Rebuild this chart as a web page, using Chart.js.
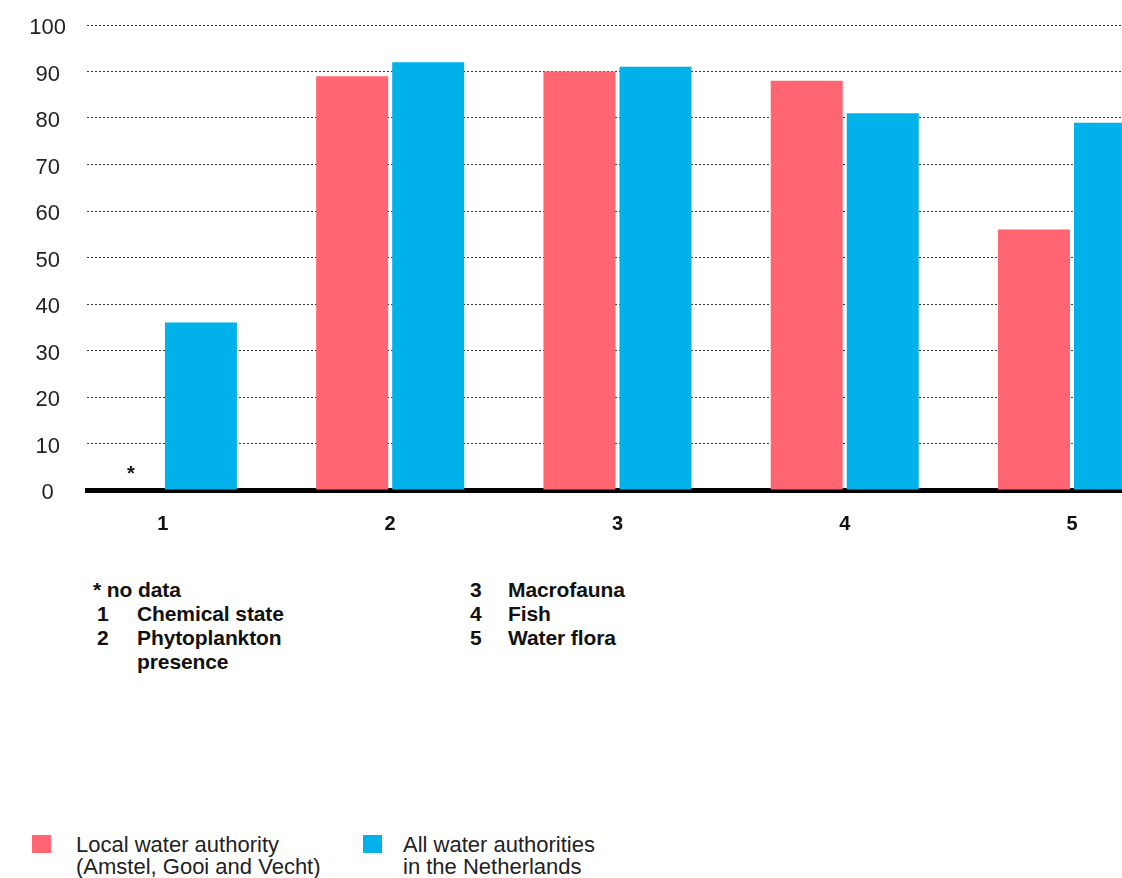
<!DOCTYPE html>
<html>
<head>
<meta charset="utf-8">
<script src="https://cdn.jsdelivr.net/npm/chart.js@4"></script>
<style>
  html, body { margin: 0; padding: 0; background: #fff; }
  body { width: 1122px; height: 878px; overflow: hidden; position: relative; font-family: "Liberation Sans", Arial, sans-serif; }
  #chartBox { position: absolute; left: 0; top: 0; width: 1122px; height: 533px; }
  .notes { position: absolute; top: 578px; font-weight: 700; font-size: 21px; line-height: 24px; color: #111; letter-spacing: -0.1px; }
  .notes .row { display: flex; }
  .notes .num { width: 40px; flex: none; }
  .legend { position: absolute; top: 834px; font-size: 22px; line-height: 22px; color: #222; }
  .legend .swatch { position: absolute; top: 1px; width: 19px; height: 18px; }
</style>
</head>
<body>
<div id="chartBox"><canvas id="waterChart"></canvas></div>

<div class="notes" style="left:93px">
  <div class="row">* no data</div>
  <div class="row" style="margin-left:4px"><span class="num">1</span><span>Chemical state</span></div>
  <div class="row" style="margin-left:4px"><span class="num">2</span><span>Phytoplankton<br>presence</span></div>
</div>
<div class="notes" style="left:470px">
  <div class="row"><span class="num" style="width:38px">3</span><span>Macrofauna</span></div>
  <div class="row"><span class="num" style="width:38px">4</span><span>Fish</span></div>
  <div class="row"><span class="num" style="width:38px">5</span><span>Water flora</span></div>
</div>

<div class="legend" style="left:32px">
  <span class="swatch" style="left:0;background:#ff6672"></span>
  <div style="margin-left:44px">Local water authority<br>(Amstel, Gooi and Vecht)</div>
</div>
<div class="legend" style="left:363px">
  <span class="swatch" style="left:0;background:#00b1ea"></span>
  <div style="margin-left:40px">All water authorities<br>in the Netherlands</div>
</div>

<script>
// quality indicators, numbered as in the notes below the chart
const categories = ['1', '2', '3', '4', '5'];
// score per indicator; null = no data
const localAuthority = [null, 89, 90, 88, 56];
const allAuthorities = [36, 92, 91, 81, 79];
const yTicks = [0, 10, 20, 30, 40, 50, 60, 70, 80, 90, 100];

const RED = '#ff6672';
const BLUE = '#00b1ea';
const FONT = '"Liberation Sans", Arial, sans-serif';

function toPoints(values) {
  return values.map((v, i) => ({ x: i + 1, y: v }));
}

// puts a "*" where a bar has no value
const noDataMarker = {
  id: 'noDataMarker',
  afterDatasetsDraw(chart) {
    const ctx = chart.ctx;
    const bottom = chart.chartArea.bottom;
    ctx.save();
    ctx.font = 'bold 20px ' + FONT;
    ctx.fillStyle = '#111';
    ctx.textAlign = 'center';
    ctx.textBaseline = 'middle';
    chart.data.datasets.forEach((ds, d) => {
      const meta = chart.getDatasetMeta(d);
      ds.data.forEach((pt, i) => {
        if (pt.y === null && meta.data[i]) {
          ctx.fillText('*', meta.data[i].x + 6, bottom - 16);
        }
      });
    });
    ctx.restore();
  }
};

new Chart('waterChart', {
  type: 'bar',
  data: {
    datasets: [
      {
        label: 'Local water authority (Amstel, Gooi and Vecht)',
        data: toPoints(localAuthority),
        backgroundColor: RED,
        borderWidth: 0
      },
      {
        label: 'All water authorities in the Netherlands',
        data: toPoints(allAuthorities),
        backgroundColor: BLUE,
        borderWidth: 0
      }
    ]
  },
  options: {
    responsive: true,
    maintainAspectRatio: false,
    animation: false,
    categoryPercentage: 0.669,
    barPercentage: 0.947,
    layout: { padding: { top: 25, right: 0, left: 0, bottom: 0 } },
    plugins: {
      legend: { display: false },
      tooltip: { enabled: false }
    },
    scales: {
      x: {
        type: 'linear',
        offset: false,
        min: 0.666,
        max: 5.22,
        afterBuildTicks(axis) {
          axis.ticks = categories.map((c, i) => ({ value: i + 1 }));
        },
        afterFit(axis) {
          axis.height = 43;
        },
        grid: { display: false },
        border: { display: true, color: '#000', width: 5 },
        ticks: {
          callback: (v) => categories[v - 1],
          color: '#111',
          padding: 14,
          font: { family: FONT, size: 20, weight: 'bold' }
        }
      },
      y: {
        min: 0,
        max: 100,
        afterBuildTicks(axis) {
          axis.ticks = yTicks.map((v) => ({ value: v }));
        },
        afterFit(axis) {
          axis.width = 87;
          axis.paddingTop = 0;
          axis.paddingBottom = 0;
        },
        grid: { color: '#333', lineWidth: 1, drawTicks: false },
        border: { display: false, dash: [2, 2] },
        ticks: {
          color: '#222',
          padding: 21,
          crossAlign: 'center',
          labelOffset: 3,
          font: { family: FONT, size: 22 }
        }
      }
    }
  },
  plugins: [noDataMarker]
});
</script>
</body>
</html>
